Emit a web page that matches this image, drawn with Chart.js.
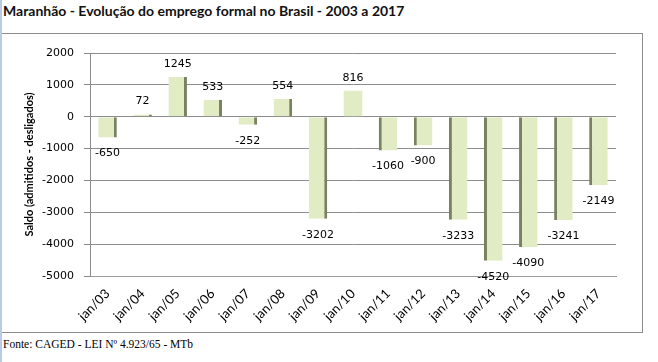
<!DOCTYPE html>
<html>
<head>
<meta charset="utf-8">
<script src="https://cdn.jsdelivr.net/npm/chart.js@4/dist/chart.umd.min.js"></script>
<style>
  body { margin: 0; width: 658px; height: 362px; position: relative; background: #fff; overflow: hidden; }
  #leftline { position: absolute; left: 0; top: 0; width: 2px; height: 362px; background: #b9cbe2; }
  #title { position: absolute; left: 3px; top: 2px; font: bold 14px Lato, sans-serif; color: #111; white-space: nowrap; }
  #box { position: absolute; left: 2px; top: 33px; width: 640px; height: 298px;
         border-top: 1px solid #8c8c8c; border-right: 1px solid #8c8c8c; border-bottom: 1px solid #8c8c8c; }
  #footer { position: absolute; left: 3px; top: 338px; font: 11.5px "Liberation Serif", serif; color: #000; white-space: nowrap; }
</style>
</head>
<body>
<div id="leftline"></div>
<div id="title">Maranhão - Evolução do emprego formal no Brasil - 2003 a 2017</div>
<div id="box"><canvas id="c" width="640" height="298"></canvas></div>
<div id="footer">Fonte: CAGED - LEI Nº 4.923/65 - MTb</div>
<script>
// dados
const categories = ['jan/03', 'jan/04', 'jan/05', 'jan/06', 'jan/07', 'jan/08', 'jan/09', 'jan/10',
                    'jan/11', 'jan/12', 'jan/13', 'jan/14', 'jan/15', 'jan/16', 'jan/17'];
const saldo = [-650, 72, 1245, 533, -252, 554, -3202, 816, -1060, -900, -3233, -4520, -4090, -3241, -2149];
const yTicks = [2000, 1000, 0, -1000, -2000, -3000, -4000, -5000];

const barLabels = {
    id: 'barLabels',
    afterDatasetsDraw(chart) {
        const ctx = chart.ctx;
        const meta = chart.getDatasetMeta(0);
        ctx.save();
        ctx.font = '11px "DejaVu Sans", sans-serif';
        ctx.fillStyle = '#000';
        ctx.textAlign = 'center';
        ctx.textBaseline = 'middle';
        meta.data.forEach((bar, i) => {
            const v = saldo[i];
            const y = v >= 0 ? bar.y - 13 : bar.y + 16;
            ctx.fillText(String(v), bar.x, y);
        });
        ctx.restore();
    }
};

new Chart(document.getElementById('c'), {
    type: 'bar',
    data: {
        labels: categories,
        datasets: [{
            data: saldo,
            backgroundColor: '#e1ecc4',
            borderColor: '#7a8161',
            borderSkipped: false,
            borderWidth: ctx => ctx.dataIndex < 7 ? { left: 0, right: 3, top: 0, bottom: 0 }
                                                  : ctx.dataIndex > 7 ? { left: 3, right: 0, top: 0, bottom: 0 } : 0,
            barPercentage: 0.53,
            categoryPercentage: 1
        }]
    },
    options: {
        responsive: false,
        animation: false,
        layout: { padding: { top: 19, right: 26, left: 0, bottom: 0 } },
        plugins: {
            legend: { display: false },
            tooltip: { enabled: false }
        },
        scales: {
            x: {
                grid: { display: false, drawTicks: false },
                border: { display: true, color: '#9a9a9a' },
                ticks: {
                    color: '#000',
                    font: { family: 'Lato', size: 13 },
                    minRotation: 45,
                    maxRotation: 45,
                    padding: 10
                },
                afterFit: s => { s.height = 56; }
            },
            y: {
                min: -5000,
                max: 2000,
                afterBuildTicks: s => { s.ticks = yTicks.map(v => ({ value: v })); },
                grid: { color: '#8c8c8c', tickLength: 6 },
                border: { color: '#8c8c8c' },
                ticks: {
                    color: '#000',
                    font: { family: 'DejaVu Sans', size: 11 },
                    padding: 10,
                    callback: v => String(v)
                },
                title: {
                    display: true,
                    text: 'Saldo (admitidos - desligados)',
                    color: '#000',
                    font: { family: 'Lato', size: 11, weight: 'bold' },
                    padding: { top: 21, bottom: 0 }
                },
                afterFit: s => { s.width = 88; }
            }
        }
    },
    plugins: [barLabels]
});
</script>
</body>
</html>
